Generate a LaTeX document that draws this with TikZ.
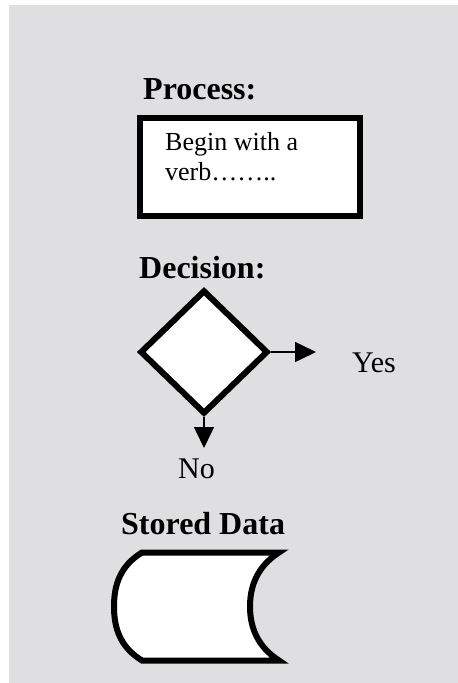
\documentclass[tikz,border=0pt]{standalone}
\usepackage{fontspec}
\setmainfont{Liberation Serif}
\usetikzlibrary{arrows.meta,shapes.geometric,positioning}
\definecolor{panelgray}{RGB}{223,223,225}

\begin{document}
\begin{tikzpicture}[x=1pt,y=-1pt]
\tikzstyle{heading}=[anchor=base west,inner sep=0pt,font=\fontsize{32}{36}\selectfont\bfseries]
\tikzstyle{answer}=[anchor=base west,inner sep=0pt,font=\fontsize{30}{34}\selectfont]
\tikzstyle{bodytext}=[anchor=base west,inner sep=0pt,align=left,font=\fontsize{26}{30}\selectfont]
\tikzstyle{procbox}=[draw=black,fill=white,line width=6pt,minimum width=220pt,minimum height=98pt,inner sep=0pt]
\tikzstyle{decbox}=[diamond,draw=black,fill=white,line width=6pt,minimum width=128pt,minimum height=124pt,inner sep=0pt]
\tikzstyle{flow}=[-{Triangle[length=21pt,width=20pt]},line width=1.5pt]

\useasboundingbox (0,0) rectangle (458,683);
\fill[panelgray] (9,5) rectangle (458,683);

% process
\node[heading] (ptitle) at (143,99) {Process:};
\node[procbox] (process) at (250,167) {};
\node[bodytext] (verb) at (165,180.5) {Begin with a\\verb……..};

% decision
\node[heading] (dtitle) at (139,278) {Decision:};
\node[decbox] (decision) at (204,352) {};
\coordinate (yesend) at (316,352);
\coordinate (noend) at (204,448);
\draw[flow] (decision.east) -- (yesend);
\draw[flow] (decision.south) -- (noend);
\node[answer] (yes) at (352,372) {Yes};
\node[answer] (no) at (178,478) {No};

% stored data
\node[heading] (stitle) at (121,534) {Stored Data};
\draw[draw=black,fill=white,line width=6pt]
  (142,552.5) -- (279,552.5)
  .. controls (258,566) and (250,585) .. (250,606.5)
  .. controls (250,628) and (258,647) .. (279,660.5)
  -- (142,660.5)
  .. controls (120,647) and (114,628) .. (114,606.5)
  .. controls (114,585) and (120,566) .. cycle;
\end{tikzpicture}
\end{document}
